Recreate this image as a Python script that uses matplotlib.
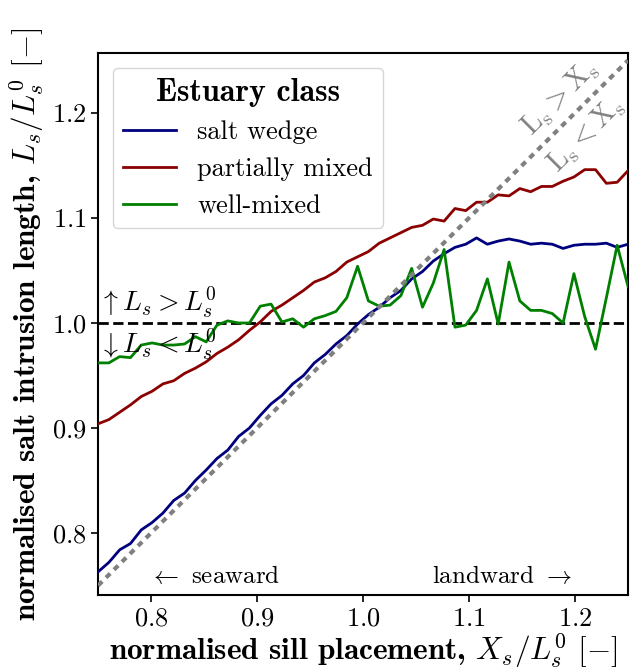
import numpy as np
import matplotlib
matplotlib.use('Agg')
import matplotlib.pyplot as plt
from matplotlib.font_manager import FontProperties

plt.rcParams['font.family'] = 'cmr10'
plt.rcParams['mathtext.fontset'] = 'cm'
plt.rcParams['axes.formatter.use_mathtext'] = True

# sill placement grid, X_s / L_s^0
x_sill = np.linspace(0.75, 1.25, 50)

salt_wedge = [0.763, 0.772, 0.784, 0.790, 0.803, 0.810, 0.819, 0.831, 0.838, 0.850,
              0.860, 0.871, 0.879, 0.892, 0.900, 0.912, 0.923, 0.931, 0.942, 0.950,
              0.962, 0.970, 0.980, 0.988, 0.999, 1.008, 1.015, 1.024, 1.031, 1.042,
              1.049, 1.059, 1.066, 1.072, 1.075, 1.081, 1.075, 1.078, 1.080, 1.078,
              1.075, 1.076, 1.075, 1.071, 1.074, 1.075, 1.075, 1.076, 1.072, 1.075]

partially_mixed = [0.904, 0.908, 0.915, 0.922, 0.930, 0.935, 0.942, 0.945, 0.952, 0.957,
                   0.963, 0.971, 0.977, 0.984, 0.993, 1.001, 1.011, 1.017, 1.024, 1.031,
                   1.039, 1.043, 1.049, 1.058, 1.063, 1.068, 1.076, 1.081, 1.086, 1.091,
                   1.093, 1.099, 1.097, 1.109, 1.107, 1.115, 1.115, 1.122, 1.121, 1.128,
                   1.125, 1.130, 1.130, 1.135, 1.139, 1.146, 1.146, 1.133, 1.134, 1.145]

well_mixed = [0.962, 0.962, 0.968, 0.967, 0.979, 0.981, 0.979, 0.979, 0.980, 0.987,
              0.982, 0.998, 1.002, 1.000, 1.000, 1.016, 1.018, 1.001, 1.004, 0.996,
              1.004, 1.007, 1.011, 1.024, 1.054, 1.021, 1.016, 1.017, 1.026, 1.052,
              1.015, 1.038, 1.070, 0.996, 0.998, 1.012, 1.042, 0.999, 1.058, 1.021,
              1.012, 1.012, 1.009, 1.000, 1.047, 1.006, 0.975, 1.024, 1.074, 1.035]

names = ['salt wedge', 'partially mixed', 'well-mixed']
colours = ['#00007f', '#8b0000', 'green']

fig = plt.figure(figsize=(6.3, 6.72), dpi=100)
ax = fig.add_axes([0.1556, 0.1146, 0.8412, 0.8064])

for data, name, c in zip([salt_wedge, partially_mixed, well_mixed], names, colours):
    ax.plot(x_sill, data, '-', color=c, lw=2, label=name, zorder=3)

lims = [0.75, 1.25]
ax.plot(lims, lims, color='grey', lw=3, dashes=(1.4, 1.3), zorder=4)
ax.axhline(1.0, color='k', lw=2, ls='--', zorder=2)

ax.set_xlim(0.75, 1.25)
ax.set_ylim(0.741, 1.257)
ax.set_xticks([0.8, 0.9, 1.0, 1.1, 1.2])
ax.set_yticks([0.8, 0.9, 1.0, 1.1, 1.2])
ax.tick_params(labelsize=19, direction='out', length=5, width=1.2)
for s in ax.spines.values():
    s.set_linewidth(1.5)

bold = FontProperties(family='cmb10', size=22.5)
ax.set_xlabel(r'normalised sill placement, $X_s/L_s^0$ $[-]$', fontproperties=bold, labelpad=1)
ax.set_ylabel(r'normalised salt intrusion length, $L_s/L_s^0$ $[-]$', fontproperties=bold, labelpad=3)

ax.text(0.751, 1.003, r'$\uparrow L_s > L_s^0$', fontsize=20, ha='left', va='bottom')
ax.text(0.751, 0.997, r'$\downarrow L_s < L_s^0$', fontsize=20, ha='left', va='top')

ax.text(0.219, 0.022, r'$\leftarrow$ seaward', transform=ax.transAxes, fontsize=18,
        ha='center', va='baseline')
ax.text(0.762, 0.022, r'landward $\rightarrow$', transform=ax.transAxes, fontsize=18,
        ha='center', va='baseline')

ax.text(1.186, 1.214, r'$\mathrm{L_s > X_s}$', color='grey', fontsize=21, rotation=45,
        rotation_mode='anchor', ha='center', va='center')
ax.text(1.211, 1.179, r'$\mathrm{L_s < X_s}$', color='grey', fontsize=21, rotation=45,
        rotation_mode='anchor', ha='center', va='center')

leg = ax.legend(loc='upper left', fontsize=19, title='Estuary class',
                title_fontproperties=FontProperties(family='cmb10', size=23),
                handlelength=2.0, borderaxespad=0.55)
leg.get_frame().set_edgecolor('0.8')

fig.savefig('out.png', dpi=100)
